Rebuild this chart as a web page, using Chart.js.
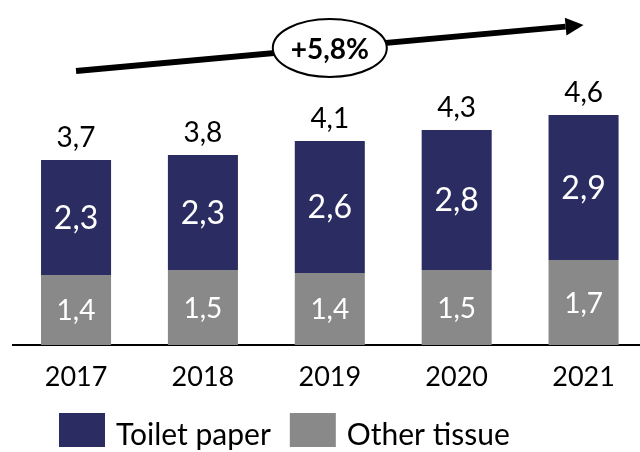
<!DOCTYPE html>
<html>
<head>
<meta charset="utf-8">
<script src="https://cdn.jsdelivr.net/npm/chart.js@4/dist/chart.umd.min.js"></script>
<style>
  html, body { margin: 0; padding: 0; background: #fff; overflow: hidden; }
  #wrap { width: 647px; height: 452px; }
</style>
</head>
<body>
<div id="wrap"><canvas id="tissue" width="647" height="452"></canvas></div>
<script>
// Tissue volumes by year, stacked
var years = ['2017', '2018', '2019', '2020', '2021'];
var toiletPaper = [2.3, 2.3, 2.64, 2.8, 2.9];
var otherTissue = [1.4, 1.5, 1.44, 1.5, 1.7];
var growthLabel = '+5,8%';

var NAVY = '#2B2D62';
var GREY = '#898989';
var FONT = 'Lato, "Open Sans", sans-serif';

function fmt(v) {
	return v.toFixed(1).replace('.', ',');
}

// white values inside each segment, black totals above each stack
var barLabels = {
	id: 'barLabels',
	afterDatasetsDraw: function(chart) {
		var ctx = chart.ctx;
		var sets = chart.data.datasets;
		ctx.save();
		ctx.textAlign = 'center';
		sets.forEach(function(ds, i) {
			chart.getDatasetMeta(i).data.forEach(function(bar, j) {
				ctx.fillStyle = '#fff';
				ctx.font = ds.labelSize + 'px ' + FONT;
				ctx.textBaseline = 'middle';
				ctx.fillText(fmt(ds.data[j]), bar.x, (bar.y + bar.base) / 2 + 1);
			});
		});
		chart.getDatasetMeta(sets.length - 1).data.forEach(function(bar, j) {
			var total = sets.reduce(function(s, d) { return s + d.data[j]; }, 0);
			ctx.fillStyle = '#000';
			ctx.font = '28px ' + FONT;
			ctx.textBaseline = 'alphabetic';
			ctx.fillText(fmt(total), bar.x, bar.y - 13);
		});
		ctx.restore();
	}
};

// growth arrow across the bars with the CAGR bubble
var growthArrow = {
	id: 'growthArrow',
	afterDraw: function(chart) {
		var ctx = chart.ctx;
		var x = chart.scales.x;
		var x0 = x.getPixelForValue(0), y0 = 71;
		var x1 = x.getPixelForValue(years.length - 1), y1 = 25;
		var ang = Math.atan2(y1 - y0, x1 - x0);
		var head = 18, half = 9;
		var bx = x1 - head * Math.cos(ang), by = y1 - head * Math.sin(ang);
		ctx.save();
		ctx.strokeStyle = '#000';
		ctx.fillStyle = '#000';
		ctx.lineWidth = 6;
		ctx.beginPath();
		ctx.moveTo(x0, y0);
		ctx.lineTo(bx, by);
		ctx.stroke();
		ctx.beginPath();
		ctx.moveTo(x1, y1);
		ctx.lineTo(bx + half * Math.sin(ang), by - half * Math.cos(ang));
		ctx.lineTo(bx - half * Math.sin(ang), by + half * Math.cos(ang));
		ctx.closePath();
		ctx.fill();

		var cx = x.getPixelForValue(2), cy = 48;
		ctx.beginPath();
		ctx.ellipse(cx, cy, 57, 29, 0, 0, Math.PI * 2);
		ctx.fillStyle = '#fff';
		ctx.fill();
		ctx.lineWidth = 2;
		ctx.stroke();
		ctx.fillStyle = '#000';
		ctx.font = 'bold 28px ' + FONT;
		ctx.textAlign = 'center';
		ctx.textBaseline = 'alphabetic';
		ctx.fillText(growthLabel, cx, 59);
		ctx.restore();
	}
};

// legend row under the axis, toilet paper first
var bottomLegend = {
	id: 'bottomLegend',
	afterDraw: function(chart) {
		var ctx = chart.ctx;
		var items = chart.data.datasets.slice().reverse();
		var left = 59;
		ctx.save();
		ctx.font = '30px ' + FONT;
		ctx.textBaseline = 'alphabetic';
		ctx.textAlign = 'left';
		items.forEach(function(ds) {
			ctx.fillStyle = ds.backgroundColor;
			ctx.fillRect(left, 413, 46, 34);
			ctx.fillStyle = '#000';
			ctx.fillText(ds.label, left + 57, 445);
			left += 57 + ctx.measureText(ds.label).width + 19;
		});
		ctx.restore();
	}
};

new Chart(document.getElementById('tissue'), {
	type: 'bar',
	data: {
		labels: years,
		datasets: [
			{ label: 'Other tissue', data: otherTissue, backgroundColor: GREY, labelSize: 28 },
			{ label: 'Toilet paper', data: toiletPaper, backgroundColor: NAVY, labelSize: 32 },
		],
	},
	options: {
		responsive: false,
		animation: false,
		devicePixelRatio: 1,
		layout: { padding: { left: 12.6, top: 10, right: 0, bottom: 0 } },
		datasets: { bar: { barPercentage: 0.552, categoryPercentage: 1 } },
		plugins: {
			legend: { display: false },
			tooltip: { enabled: false },
		},
		scales: {
			x: {
				stacked: true,
				grid: { display: false, drawTicks: false },
				border: { display: true, color: '#000', width: 2 },
				ticks: { color: '#000', padding: 16, font: { family: FONT, size: 27 } },
				afterFit: function(scale) { scale.height = 107; },
			},
			y: {
				stacked: true,
				display: false,
				min: 0,
				max: 6.7,
			},
		},
	},
	plugins: [barLabels, growthArrow, bottomLegend],
});
</script>
</body>
</html>
